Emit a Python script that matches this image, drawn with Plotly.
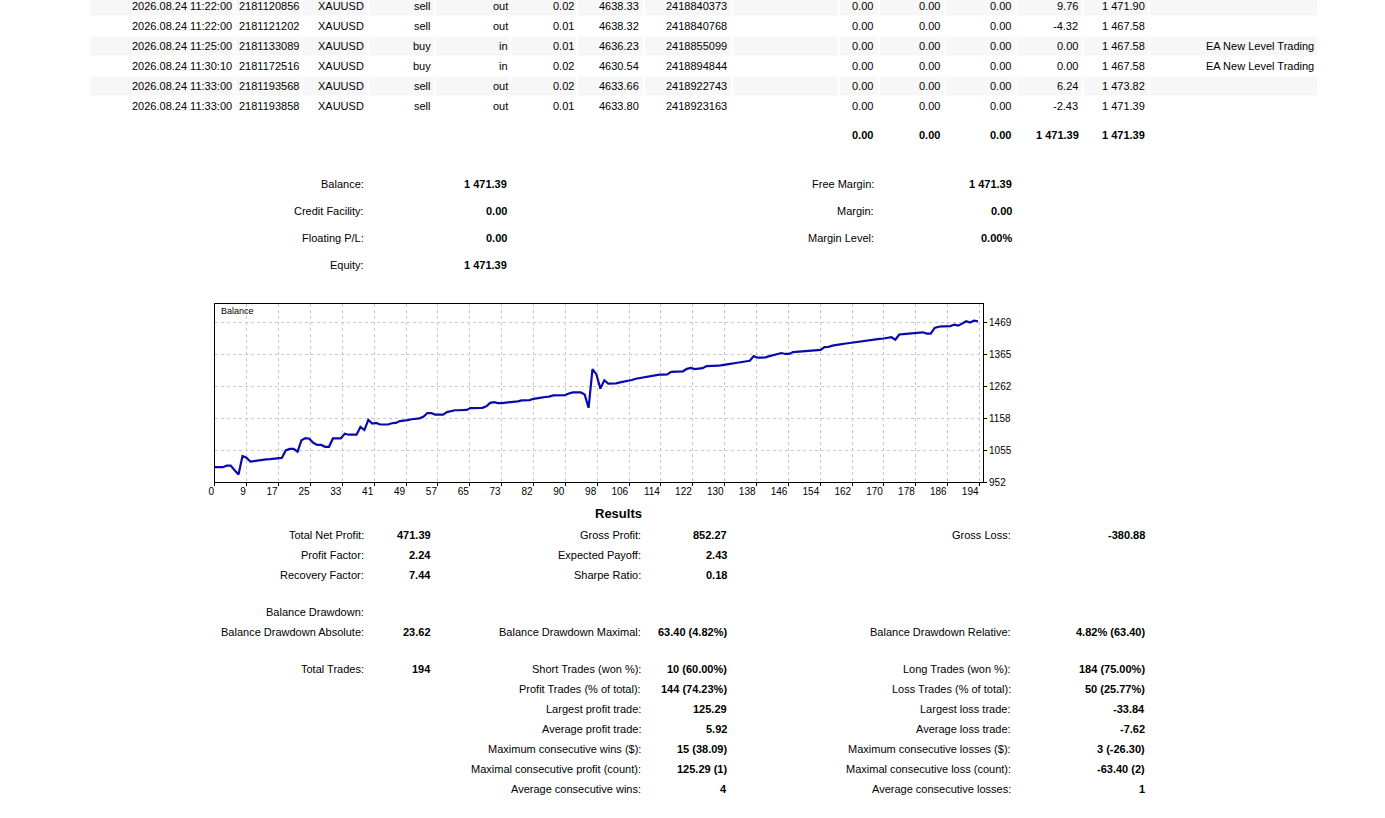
import plotly.graph_objects as go

W, H = 1385, 818
FONT = "Liberation Sans"

# --- deals table (last rows of the report) ---
deal_time = ["2026.08.24 11:22:00", "2026.08.24 11:22:00", "2026.08.24 11:25:00",
             "2026.08.24 11:30:10", "2026.08.24 11:33:00", "2026.08.24 11:33:00"]
deal_id = ["2181120856", "2181121202", "2181133089", "2181172516", "2181193568", "2181193858"]
deal_symbol = ["XAUUSD"] * 6
deal_type = ["sell", "sell", "buy", "buy", "sell", "sell"]
deal_dir = ["out", "out", "in", "in", "out", "out"]
deal_volume = ["0.02", "0.01", "0.01", "0.02", "0.02", "0.01"]
deal_price = ["4638.33", "4638.32", "4636.23", "4630.54", "4633.66", "4633.80"]
deal_order = ["2418840373", "2418840768", "2418855099", "2418894844", "2418922743", "2418923163"]
deal_commission = ["0.00"] * 6
deal_fee = ["0.00"] * 6
deal_swap = ["0.00"] * 6
deal_profit = ["9.76", "-4.32", "0.00", "0.00", "6.24", "-2.43"]
deal_balance = ["1 471.90", "1 467.58", "1 467.58", "1 467.58", "1 473.82", "1 471.39"]
deal_comment = ["", "", "EA New Level Trading", "EA New Level Trading", "", ""]
totals = ["0.00", "0.00", "0.00", "1 471.39", "1 471.39"]

# --- account summary ---
summary_left_labels = ["Balance:", "Credit Facility:", "Floating P/L:", "Equity:"]
summary_left_values = ["1 471.39", "0.00", "0.00", "1 471.39"]
summary_right_labels = ["Free Margin:", "Margin:", "Margin Level:"]
summary_right_values = ["1 471.39", "0.00", "0.00%"]

# --- balance curve (one point per closed trade) ---
balance = [
    1000, 1000, 1000, 1005, 1005, 990, 976.38, 1036, 1031, 1018,
    1020, 1023, 1024, 1025, 1026, 1027, 1028, 1030, 1054, 1059,
    1059, 1050, 1087, 1094, 1092, 1079, 1072, 1072, 1066, 1066,
    1093, 1093, 1093, 1108, 1105, 1105, 1105, 1130, 1120, 1153,
    1141, 1143, 1138, 1138, 1138, 1142, 1143, 1149, 1150, 1152,
    1155, 1157, 1158, 1163, 1175, 1175, 1170, 1170, 1170, 1178,
    1182, 1184, 1184, 1185, 1185, 1191, 1192, 1192, 1192, 1197,
    1208, 1210, 1207, 1207, 1208, 1210, 1211, 1213, 1216, 1217,
    1217, 1221, 1222, 1225, 1227, 1228, 1232, 1232, 1232, 1233,
    1238, 1242, 1242, 1242, 1235, 1192, 1317, 1300, 1254, 1281,
    1270, 1270, 1271, 1274, 1276, 1280, 1282, 1286, 1288, 1291,
    1294, 1295, 1297, 1299, 1299, 1300, 1308, 1309, 1310, 1310,
    1318, 1321, 1317, 1319, 1320, 1327, 1327, 1327, 1328, 1330,
    1331, 1334, 1336, 1338, 1340, 1342, 1344, 1359, 1354, 1354,
    1355, 1359, 1362, 1366, 1369, 1366, 1366, 1372, 1373, 1374,
    1375, 1376, 1377, 1378, 1379, 1388, 1389, 1393, 1394, 1397,
    1399, 1401, 1402, 1403, 1405, 1407, 1409, 1411, 1413, 1415,
    1416, 1418, 1420, 1412, 1429, 1430, 1431, 1432, 1433, 1436,
    1436, 1432, 1432, 1450, 1454, 1455, 1456, 1456, 1461, 1458,
    1464, 1471.90, 1467.58, 1473.82, 1471.39,
]
trade_no = list(range(len(balance)))
x_tick_labels = ["0", "9", "17", "25", "33", "41", "49", "57", "65", "73", "82", "90", "98",
                 "106", "114", "122", "130", "138", "146", "154", "162", "170", "178", "186", "194"]
y_tick_values = [952, 1055, 1158, 1262, 1365, 1469]

# --- results block ---
res_c1_labels = ["Total Net Profit:", "Profit Factor:", "Recovery Factor:", "Balance Drawdown:",
                 "Balance Drawdown Absolute:", "Total Trades:"]
res_c1_values = ["471.39", "2.24", "7.44", "", "23.62", "194"]
res_c2_labels = ["Gross Profit:", "Expected Payoff:", "Sharpe Ratio:", "Balance Drawdown Maximal:",
                 "Short Trades (won %):", "Profit Trades (% of total):", "Largest profit trade:",
                 "Average profit trade:", "Maximum consecutive wins ($):",
                 "Maximal consecutive profit (count):", "Average consecutive wins:"]
res_c2_values = ["852.27", "2.43", "0.18", "63.40 (4.82%)", "10 (60.00%)", "144 (74.23%)",
                 "125.29", "5.92", "15 (38.09)", "125.29 (1)", "4"]
res_c3_labels = ["Gross Loss:", "Balance Drawdown Relative:", "Long Trades (won %):",
                 "Loss Trades (% of total):", "Largest loss trade:", "Average loss trade:",
                 "Maximum consecutive losses ($):", "Maximal consecutive loss (count):",
                 "Average consecutive losses:"]
res_c3_values = ["-380.88", "4.82% (63.40)", "184 (75.00%)", "50 (25.77%)", "-33.84", "-7.62",
                 "3 (-26.30)", "-63.40 (2)", "1"]

YK = 1.0075  # small vertical stretch, things were landing a few px high further down the page


def px(x):
    return x / W


def py(y):
    return max(0.0, 1 - y * YK / H)


fig = go.Figure()


def txt(x, y, s, bold=False, anchor="right", size=11):
    if not s:
        return
    fig.add_annotation(x=px(x), y=py(y), xref="paper", yref="paper", text=f"<b>{s}</b>" if bold else s,
                       showarrow=False, xanchor=anchor, yanchor="middle", borderpad=0,
                       font=dict(family=FONT, size=size, color="#000000"))


# striped table rows with thin white cell gaps
row_y = [6, 26, 46, 66, 86, 106]
cell_edges = [82, 229, 296, 363, 430, 506, 573, 640, 729, 836, 876, 942, 1014, 1081, 1148, 1318]
for i, yc in enumerate(row_y):
    if i % 2 == 0:
        for a, b in zip(cell_edges[:-1], cell_edges[1:]):
            fig.add_shape(type="rect", xref="paper", yref="paper", x0=px(a + 1), x1=px(b - 1),
                          y0=py(yc + 9.5), y1=py(yc - 9.5), line_width=0, fillcolor="#f7f7f7", layer="below")

col_right = [227, 294, 360, 427, 505, 571, 636, 725, 871, 939, 1010, 1077, 1145, 1315]
columns = [deal_time, deal_id, deal_symbol, deal_type, deal_dir, deal_volume, deal_price, deal_order,
           deal_commission, deal_fee, deal_swap, deal_profit, deal_balance, deal_comment]
for xr, col in zip(col_right, columns):
    for yc, v in zip(row_y, col):
        txt(xr, yc, v)
for xr, v in zip([871, 939, 1010, 1078, 1145], totals):
    txt(xr, 135, v, bold=True)

# account summary
for yc, lab, val in zip([184, 211, 238, 265], summary_left_labels, summary_left_values):
    txt(360, yc, lab)
    txt(504, yc, val, bold=True)
for yc, lab, val in zip([184, 211, 238], summary_right_labels, summary_right_values):
    txt(872, yc, lab)
    txt(1011, yc, val, bold=True)

# balance chart
fig.add_trace(go.Scatter(x=trade_no, y=balance, mode="lines", line=dict(color="#0a0aaa", width=2.2),
                         hoverinfo="skip", showlegend=False))
txt(214, 311, "Balance", anchor="left", size=9)

# results
txt(615, 513, "Results", bold=True, anchor="center", size=13)
for yc, lab, val in zip([535, 555, 575, 612, 632, 669], res_c1_labels, res_c1_values):
    txt(360, yc, lab)
    txt(427, yc, val, bold=True)
for yc, lab, val in zip([535, 555, 575, 632, 669, 689, 709, 729, 749, 769, 789], res_c2_labels, res_c2_values):
    txt(638, yc, lab)
    txt(725, yc, val, bold=True)
for yc, lab, val in zip([535, 632, 669, 689, 709, 729, 749, 769, 789], res_c3_labels, res_c3_values):
    txt(1010, yc, lab)
    txt(1145, yc, val, bold=True)

# bottom page edge
fig.add_shape(type="rect", xref="paper", yref="paper", x0=0, x1=1, y0=0, y1=py(815),
              line_width=0, fillcolor="#d9d9d9")

grid = dict(showgrid=True, gridcolor="#c8c8c8", griddash="3px,3px", gridwidth=1,
            showline=True, linecolor="#000000", linewidth=1, mirror=True, zeroline=False,
            ticks="outside", ticklen=3, tickcolor="#000000",
            tickfont=dict(family=FONT, size=10, color="#000000"))

fig.update_layout(
    width=W, height=H, margin=dict(l=0, r=0, t=0, b=0),
    paper_bgcolor="white", plot_bgcolor="white", showlegend=False,
    xaxis=dict(domain=[px(209), px(981)], range=[0, 195.3], ticklabelposition="outside left",
               tickvals=[i * 8.1 for i in range(len(x_tick_labels))], ticktext=x_tick_labels, **grid),
    yaxis=dict(domain=[py(482), py(303.5)], range=[952, 1529], side="right",
               tickvals=y_tick_values, ticktext=[str(v) for v in y_tick_values], **grid),
)

# drop the default body margin so the figure sits in the window corner
page_js = "document.documentElement.style.margin='0px'; document.body.style.margin='0px';"
fig.write_html("out.html", config={"displayModeBar": False}, post_script=page_js)
